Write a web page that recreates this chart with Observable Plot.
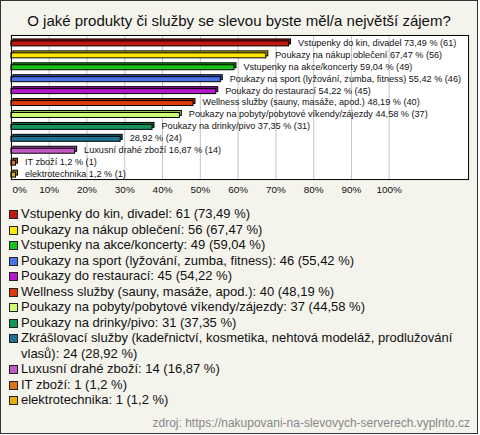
<!DOCTYPE html>
<html><head><meta charset="utf-8">
<script src="https://cdn.jsdelivr.net/npm/d3@7"></script>
<script src="https://cdn.jsdelivr.net/npm/@observablehq/plot@0.6"></script>
<style>
body{margin:0;background:#fff;font-family:"Liberation Sans",Arial,sans-serif;}
#box{position:relative;width:476px;height:432px;border:1px solid #333;background:#f4f3ec;overflow:hidden}
#title{position:absolute;left:0;width:476px;top:11px;text-align:center;font-size:15px;line-height:17px;color:#111}
#chart{position:absolute;left:-1px;top:29px}
#legend{position:absolute;left:8px;top:205px}
.item{display:flex;align-items:flex-start;font-size:13px;line-height:15.5px;color:#111}
.sw{width:7px;height:7px;border:1px solid #222;margin:4px 3px 0 0;flex:none}
.txt{width:446px}
#src{position:absolute;right:7px;top:415px;font-size:12px;line-height:14px;color:#888}
</style></head><body>
<div id="box">
<div id="title">O jaké produkty či služby se slevou byste měl/a největší zájem?</div>
<div id="chart"></div>
<div id="legend"></div>
<div id="src">zdroj: https://nakupovani-na-slevovych-serverech.vyplnto.cz</div>
</div>
<script>
const categories = [
  "Vstupenky do kin, divadel",
  "Poukazy na nákup oblečení",
  "Vstupenky na akce/koncerty",
  "Poukazy na sport (lyžování, zumba, fitness)",
  "Poukazy do restaurací",
  "Wellness služby (sauny, masáže, apod.)",
  "Poukazy na pobyty/pobytové víkendy/zájezdy",
  "Poukazy na drinky/pivo",
  "Zkrášlovací služby (kadeřnictví, kosmetika, nehtová modeláž, prodlužování vlasů)",
  "Luxusní drahé zboží",
  "IT zboží",
  "elektrotechnika"
];
const barNames = [
  "Vstupenky do kin, divadel",
  "Poukazy na nákup oblečení",
  "Vstupenky na akce/koncerty",
  "Poukazy na sport (lyžování, zumba, fitness)",
  "Poukazy do restaurací",
  "Wellness služby (sauny, masáže, apod.)",
  "Poukazy na pobyty/pobytové víkendy/zájezdy",
  "Poukazy na drinky/pivo",
  "",
  "Luxusní drahé zboží",
  "IT zboží",
  "elektrotechnika"
];
const counts = [61, 56, 49, 46, 45, 40, 37, 31, 24, 14, 1, 1];
const percents = [73.49, 67.47, 59.04, 55.42, 54.22, 48.19, 44.58, 37.35, 28.92, 16.87, 1.2, 1.2];
const colors = ["#c2180e", "#ffe800", "#18c218", "#4a74e8", "#b418c8", "#dd3a0c",
                "#ccff77", "#14935a", "#1e7490", "#c459c4", "#e0720f", "#e6b200"];
const ticks = [0, 10, 20, 30, 40, 50, 60, 70, 80, 90, 100];

const fmt = p => String(p).replace(".", ",");
const rows = categories.map((c, i) => ({
  cat: c,
  pct: percents[i],
  color: colors[i],
  dark: d3.color(colors[i]).darker(0.8).formatHex(),
  label: (barNames[i] ? barNames[i] + " " : "") + fmt(percents[i]) + " % (" + counts[i] + ")"
}));

const chart = Plot.plot({
  width: 480, height: 175,
  marginLeft: 11, marginRight: 9, marginTop: 5, marginBottom: 25,
  x: {domain: [0, 121], axis: null},
  y: {domain: categories, axis: null, padding: 0},
  color: {type: "identity"},
  style: {fontFamily: '"Liberation Sans", Arial, sans-serif', background: "transparent", overflow: "visible"},
  marks: [
    Plot.frame({fill: "white"}),
    Plot.ruleX(ticks.slice(1), {stroke: "#c4c4c4"}),
    Plot.barX(rows, {x1: 0, x2: "pct", y: "cat", fill: "dark", stroke: "black", strokeWidth: 1, insetTop: 5, insetBottom: 2, dx: 2, dy: -2}),
    Plot.barX(rows, {x1: 0, x2: "pct", y: "cat", fill: "color", stroke: "black", strokeWidth: 1, insetTop: 5, insetBottom: 2}),
    Plot.text(rows, {x: "pct", y: "cat", text: "label", textAnchor: "start", dx: 9, dy: 0.5, fontSize: 9.2, fill: "#111"}),
    Plot.frame({stroke: "black"}),
    Plot.text(ticks.slice(0, 1), {x: d => d, frameAnchor: "bottom", dy: 14, dx: 1, textAnchor: "start", text: d => d + "%", fontSize: 10, fill: "#111"}),
    Plot.text(ticks.slice(1), {x: d => d, frameAnchor: "bottom", dy: 14, text: d => d + "%", fontSize: 10, fill: "#111"})
  ]
});
document.getElementById("chart").appendChild(chart);

const legend = document.getElementById("legend");
categories.forEach((c, i) => {
  const item = document.createElement("div");
  item.className = "item";
  const sw = document.createElement("div");
  sw.className = "sw";
  sw.style.background = colors[i];
  const t = document.createElement("div");
  t.className = "txt";
  t.textContent = c + ": " + counts[i] + " (" + fmt(percents[i]) + " %)";
  item.appendChild(sw);
  item.appendChild(t);
  legend.appendChild(item);
});
</script>
</body></html>
